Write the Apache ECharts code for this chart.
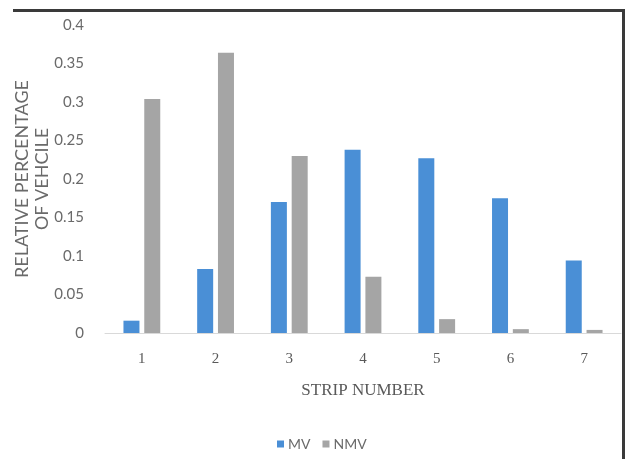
<!DOCTYPE html>
<html>
<head>
<meta charset="utf-8">
<script src="https://cdn.jsdelivr.net/npm/echarts@6/dist/echarts.min.js"></script>
<style>html,body{margin:0;padding:0;background:#fff;}#c{width:626px;height:459px;}</style>
</head>
<body>
<div id="c"></div>
<script>
const categories = ['1','2','3','4','5','6','7'];
const mvValues = [0.016, 0.083, 0.170, 0.238, 0.227, 0.175, 0.094];
const nmvValues = [0.304, 0.364, 0.230, 0.073, 0.018, 0.005, 0.004];
const yTicks = {min: 0, max: 0.4, interval: 0.05};

const chart = echarts.init(document.getElementById('c'));
chart.setOption({
  animation: false,
  backgroundColor: '#fff',
  graphic: [
    {type: 'rect', shape: {x: 13, y: 9, width: 612, height: 3}, style: {fill: '#3a3a3a'}},
    {type: 'rect', shape: {x: 622, y: 9, width: 3, height: 450}, style: {fill: '#3a3a3a'}}
  ],
  grid: {left: 105, right: 5, top: 25, bottom: 126, containLabel: false, outerBoundsMode: 'none'},
  legend: {
    bottom: 3, left: 272,
    itemWidth: 7, itemHeight: 7, itemGap: 12,
    icon: 'rect',
    textStyle: {color: '#6a6a6a', fontSize: 14, fontFamily: 'Lato', padding: [0, 0, 0, -1]},
    data: ['MV', 'NMV']
  },
  xAxis: {
    type: 'category',
    data: categories,
    axisLine: {lineStyle: {color: '#d9d9d9'}},
    axisTick: {show: false},
    axisLabel: {color: '#595959', fontSize: 15, fontFamily: 'Liberation Serif', margin: 19},
    name: 'STRIP NUMBER',
    nameLocation: 'middle',
    nameGap: 49,
    nameMoveOverlap: false,
    nameTextStyle: {color: '#595959', fontSize: 17, fontFamily: 'Liberation Serif'}
  },
  yAxis: {
    type: 'value',
    min: yTicks.min, max: yTicks.max, interval: yTicks.interval,
    axisLine: {show: false},
    axisTick: {show: false},
    splitLine: {show: false},
    axisLabel: {color: '#6a6a6a', fontSize: 15, fontFamily: 'Lato', margin: 21},
    name: 'RELATIVE PERCENTAGE\nOF VEHCILE',
    nameLocation: 'middle',
    nameRotate: 90,
    nameGap: 53,
    nameMoveOverlap: false,
    nameTextStyle: {color: '#6a6a6a', fontSize: 18, fontFamily: 'Lato', lineHeight: 20, align: 'center'}
  },
  series: [
    {name: 'MV', type: 'bar', data: mvValues, barWidth: 16, barGap: '30%', itemStyle: {color: '#4a8fd6'}},
    {name: 'NMV', type: 'bar', data: nmvValues, barWidth: 16, itemStyle: {color: '#a5a5a5'}}
  ]
});
</script>
</body>
</html>
